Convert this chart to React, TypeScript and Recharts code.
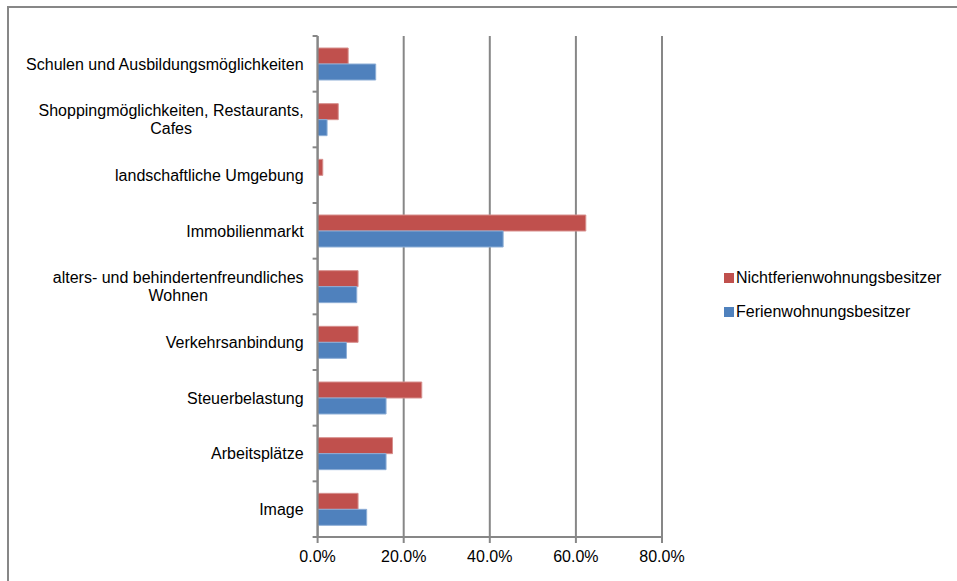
import React from "react";
import { BarChart, Bar, XAxis, YAxis, CartesianGrid, Legend } from "recharts";

const categories = [
  "Schulen und Ausbildungsmöglichkeiten",
  "Shoppingmöglichkeiten, Restaurants,\nCafes",
  "landschaftliche Umgebung",
  "Immobilienmarkt",
  "alters- und behindertenfreundliches\nWohnen",
  "Verkehrsanbindung",
  "Steuerbelastung",
  "Arbeitsplätze",
  "Image",
];

const nichtferien = [0.071, 0.048, 0.012, 0.623, 0.094, 0.094, 0.242, 0.174, 0.094];
const ferien = [0.135, 0.022, 0, 0.431, 0.091, 0.067, 0.159, 0.159, 0.114];

const xTicks = [0, 0.2, 0.4, 0.6, 0.8];

const SERIES = [
  { key: "nicht", name: "Nichtferienwohnungsbesitzer", fill: "#C0504D", stroke: "#D7908E" },
  { key: "ferien", name: "Ferienwohnungsbesitzer", fill: "#4F81BD", stroke: "#8DAED6" },
];

const FONT = '"Liberation Sans", Arial, sans-serif';
const FS = 16;
const GRAY = "#878787";

const W = 957;
const H = 581;
const MARGIN = { top: 36, right: 295, bottom: 0, left: 8 };
const Y_WIDTH = 309.6;
const X_HEIGHT = 44;
const PLOT_H = H - MARGIN.top - X_HEIGHT;
const BAND = PLOT_H / categories.length;

const data = categories.map((name, i) => ({
  name,
  nicht: nichtferien[i],
  ferien: ferien[i],
}));

let ctx: CanvasRenderingContext2D | null = null;
function textWidth(s: string) {
  if (!ctx) {
    ctx = document.createElement("canvas").getContext("2d");
    if (ctx) ctx.font = `${FS}px ${FONT}`;
  }
  return ctx ? ctx.measureText(s).width : s.length * 8;
}

const TICK_SIZE = 5;
const TICK_MARGIN = 9;

function CategoryTick(props: any) {
  const { x, y, payload, index } = props;
  const lines: string[] = String(payload.value).split("\n");
  const axisX = x + TICK_SIZE + TICK_MARGIN;
  const lineH = 17.5;
  const maxW = Math.max(...lines.map(textWidth));
  const multi = lines.length > 1;
  return (
    <g>
      <line x1={axisX - TICK_SIZE} x2={axisX} y1={y - BAND / 2} y2={y - BAND / 2} stroke={GRAY} strokeWidth={2} />
      {index === categories.length - 1 && (
        <line x1={axisX - TICK_SIZE} x2={axisX} y1={y + BAND / 2} y2={y + BAND / 2} stroke={GRAY} strokeWidth={2} />
      )}
      {lines.map((ln, i) => (
        <text
          key={i}
          x={multi ? x - maxW / 2 : x}
          y={y + (i - (lines.length - 1) / 2) * lineH}
          dy="0.355em"
          textAnchor={multi ? "middle" : "end"}
          fill="#000"
          fontSize={FS}
          fontFamily={FONT}
        >
          {ln}
        </text>
      ))}
    </g>
  );
}

function LegendBox() {
  return (
    <div style={{ fontFamily: FONT, fontSize: FS, color: "#000" }}>
      {SERIES.map((s) => (
        <div key={s.key} style={{ display: "flex", alignItems: "center", height: 34, whiteSpace: "nowrap" }}>
          <span style={{ display: "inline-block", width: 10, height: 10, background: s.fill, marginRight: 2 }} />
          {s.name}
        </div>
      ))}
    </div>
  );
}

export default function App() {
  return (
    <div style={{ position: "absolute", left: 0, top: 0, width: W, height: H, background: "#fff", overflow: "hidden" }}>
      <div
        style={{
          position: "absolute",
          left: 7,
          top: 6,
          width: W,
          height: H,
          borderTop: `2px solid ${GRAY}`,
          borderLeft: `2px solid ${GRAY}`,
        }}
      />
      <div style={{ position: "absolute", left: 0, top: 0 }}>
        <BarChart
          width={W}
          height={H}
          data={data}
          layout="vertical"
          margin={MARGIN}
          barGap={0}
          barSize={16}
        >
          <CartesianGrid horizontal={false} stroke={GRAY} strokeWidth={2} />
          <XAxis
            type="number"
            domain={[0, 0.8]}
            ticks={xTicks}
            interval={0}
            height={X_HEIGHT}
            tickFormatter={(v: number) => `${(v * 100).toFixed(1)}%`}
            axisLine={{ stroke: GRAY, strokeWidth: 2 }}
            tickLine={{ stroke: GRAY, strokeWidth: 2 }}
            tickSize={6}
            tickMargin={8}
            tick={{ fill: "#000", fontSize: FS, fontFamily: FONT }}
          />
          <YAxis
            type="category"
            dataKey="name"
            width={Y_WIDTH}
            interval={0}
            axisLine={{ stroke: GRAY, strokeWidth: 2 }}
            tickLine={false}
            tickSize={TICK_SIZE}
            tickMargin={TICK_MARGIN}
            tick={<CategoryTick />}
          />
          <Legend
            layout="vertical"
            align="center"
            verticalAlign="middle"
            content={<LegendBox />}
            wrapperStyle={{ left: 724, top: 261 }}
          />
          {SERIES.map((s) => (
            <Bar
              key={s.key}
              dataKey={s.key}
              name={s.name}
              fill={s.fill}
              stroke={s.stroke}
              strokeWidth={1}
              isAnimationActive={false}
            />
          ))}
        </BarChart>
      </div>
    </div>
  );
}
